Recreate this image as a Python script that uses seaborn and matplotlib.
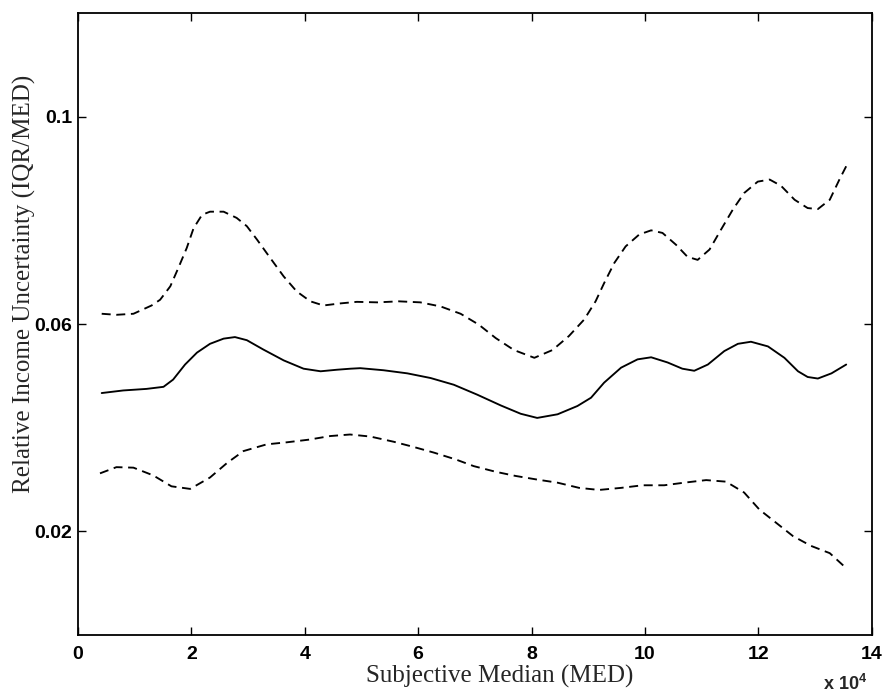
import matplotlib
matplotlib.use("Agg")
import matplotlib.pyplot as plt
import seaborn as sns
import pandas as pd

# x values are in units of 10^4
mid_x = [0.42, 0.80, 1.21, 1.51, 1.68, 1.89, 2.10, 2.33, 2.57, 2.77, 2.98, 3.27, 3.63, 3.98, 4.28, 4.57,
         4.81, 4.98, 5.39, 5.81, 6.22, 6.63, 7.04, 7.46, 7.81, 8.10, 8.46, 8.81, 9.05, 9.28, 9.58, 9.87,
         10.11, 10.40, 10.66, 10.87, 11.11, 11.40, 11.64, 11.87, 12.17, 12.46, 12.70, 12.87, 13.05, 13.29, 13.55]
mid_y = [0.0467, 0.0472, 0.0475, 0.0479, 0.0493, 0.0522, 0.0545, 0.0562, 0.0572, 0.0575, 0.0569, 0.0551,
         0.0530, 0.0514, 0.0509, 0.0512, 0.0514, 0.0515, 0.0511, 0.0505, 0.0496, 0.0483, 0.0464, 0.0443,
         0.0427, 0.0419, 0.0426, 0.0442, 0.0458, 0.0487, 0.0516, 0.0532, 0.0536, 0.0526, 0.0514, 0.0510,
         0.0522, 0.0548, 0.0562, 0.0566, 0.0557, 0.0535, 0.0509, 0.0498, 0.0495, 0.0505, 0.0522]

up_x = [0.42, 0.68, 0.98, 1.30, 1.45, 1.63, 1.77, 1.92, 2.04, 2.19, 2.33, 2.57, 2.80, 2.98, 3.16, 3.39,
        3.63, 3.86, 4.10, 4.33, 4.63, 4.92, 5.28, 5.66, 6.04, 6.40, 6.75, 7.07, 7.37, 7.69, 8.05, 8.37,
        8.66, 8.93, 9.13, 9.28, 9.46, 9.66, 9.90, 10.11, 10.31, 10.55, 10.75, 10.93, 11.14, 11.34, 11.55,
        11.75, 11.99, 12.20, 12.40, 12.64, 12.87, 13.05, 13.26, 13.43, 13.57]
up_y = [0.0620, 0.0618, 0.0620, 0.0636, 0.0647, 0.0673, 0.0708, 0.0747, 0.0785, 0.0811, 0.0817, 0.0817,
        0.0805, 0.0789, 0.0763, 0.0728, 0.0692, 0.0663, 0.0644, 0.0636, 0.0640, 0.0643, 0.0642, 0.0644,
        0.0642, 0.0634, 0.0620, 0.0599, 0.0573, 0.0550, 0.0535, 0.0550, 0.0577, 0.0609, 0.0644, 0.0679,
        0.0718, 0.0750, 0.0773, 0.0781, 0.0776, 0.0753, 0.0730, 0.0724, 0.0744, 0.0782, 0.0821, 0.0853,
        0.0875, 0.0879, 0.0867, 0.0840, 0.0824, 0.0822, 0.0840, 0.0879, 0.0909]

lo_x = [0.39, 0.68, 0.98, 1.33, 1.65, 1.98, 2.33, 2.63, 2.92, 3.33, 3.69, 4.07, 4.45, 4.80, 5.16, 5.57,
        5.92, 6.28, 6.66, 6.98, 7.37, 7.72, 8.10, 8.46, 8.84, 9.19, 9.58, 9.96, 10.34, 10.69, 11.08,
        11.43, 11.75, 12.02, 12.31, 12.61, 12.93, 13.26, 13.50]
lo_y = [0.0312, 0.0324, 0.0323, 0.0308, 0.0287, 0.0282, 0.0304, 0.0332, 0.0355, 0.0368, 0.0372, 0.0377,
        0.0384, 0.0387, 0.0383, 0.0373, 0.0363, 0.0352, 0.0339, 0.0326, 0.0315, 0.0307, 0.0300, 0.0294,
        0.0284, 0.0280, 0.0284, 0.0289, 0.0289, 0.0294, 0.0299, 0.0296, 0.0275, 0.0242, 0.0217, 0.0191,
        0.0172, 0.0158, 0.0134]

x_ticks = [0, 2, 4, 6, 8, 10, 12, 14]
y_ticks = [0.02, 0.06, 0.1]
y_tick_labels = ["0.02", "0.06", "0.1"]

sns.set_style("ticks")
plt.rcParams["font.family"] = ["Liberation Sans", "DejaVu Sans"]
plt.rcParams["mathtext.fontset"] = "custom"
plt.rcParams["mathtext.bf"] = "Liberation Sans:bold"
plt.rcParams["mathtext.rm"] = "Liberation Sans:bold"

fig = plt.figure(figsize=(8.85, 6.96), dpi=100)
ax = fig.add_axes([0.088, 0.0876, 0.897, 0.8934])

df_mid = pd.DataFrame({"x": mid_x, "y": mid_y})
df_up = pd.DataFrame({"x": up_x, "y": up_y})
df_lo = pd.DataFrame({"x": lo_x, "y": lo_y})

sns.lineplot(data=df_mid, x="x", y="y", ax=ax, color="black", linewidth=1.35, sort=False)
sns.lineplot(data=df_up, x="x", y="y", ax=ax, color="black", linewidth=1.35, sort=False)
sns.lineplot(data=df_lo, x="x", y="y", ax=ax, color="black", linewidth=1.35, sort=False)
for ln in ax.lines[1:]:
    ln.set_dashes((4.8, 3.0))

ax.set_xlim(0, 14)
ax.set_ylim(0, 0.12)
ax.set_xticks(x_ticks)
ax.set_xticklabels([str(t) for t in x_ticks])
ax.set_yticks(y_ticks)
ax.set_yticklabels(y_tick_labels)
ax.tick_params(direction="in", length=6, width=1, top=True, right=True,
               labelsize=14, colors="black")
ax.tick_params(axis="x", pad=8)
ax.tick_params(axis="y", pad=4)
for lab in ax.get_xticklabels() + ax.get_yticklabels():
    lab.set_fontweight("bold")
for sp in ax.spines.values():
    sp.set_linewidth(1.3)
    sp.set_color("black")

ax.set_xlabel("Subjective Median (MED)", fontsize=18, family="Liberation Serif")
ax.set_ylabel("Relative Income Uncertainty (IQR/MED)", fontsize=18, family="Liberation Serif")
ax.xaxis.set_label_coords(0.531, -0.048)
ax.yaxis.set_label_coords(-0.053, 0.564)

fig.text(0.93, 0.003, r"x 10$^{4}$", fontsize=13, fontweight="bold", ha="left", va="bottom")

fig.savefig("out.png", dpi=100)
